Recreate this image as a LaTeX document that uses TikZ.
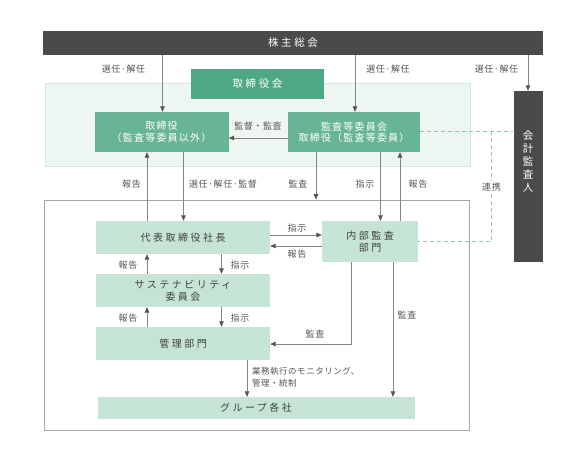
\documentclass[tikz,border=0pt]{standalone}
\usepackage{fontspec}
\setmainfont{Noto Sans CJK JP}
\newfontfamily\jpsp[LetterSpace=25]{Noto Sans CJK JP}
\newfontfamily\jpmid[LetterSpace=12]{Noto Sans CJK JP}
\newfontfamily\jplab[LetterSpace=6]{Noto Sans CJK JP}
\usetikzlibrary{arrows.meta}
\definecolor{darkbar}{HTML}{4A4A4A}
\definecolor{gboard}{HTML}{4FA885}
\definecolor{gmid}{HTML}{68B596}
\definecolor{glight}{HTML}{C6E4D6}
\definecolor{regfill}{HTML}{EEF6F1}
\definecolor{regline}{HTML}{D3E7DB}
\definecolor{lnc}{HTML}{858585}
\definecolor{tipc}{HTML}{555555}
\definecolor{txt}{HTML}{555555}
\definecolor{dashc}{HTML}{8CCBB0}
\begin{document}
\begin{tikzpicture}[x=1pt,y=-1pt,
  bx/.style={rectangle, inner sep=0pt, align=center},
  darkbx/.style={bx, fill=darkbar, text=white, font=\jpsp\fontsize{10.5}{12}\selectfont},
  boardbx/.style={bx, fill=gboard, text=white, font=\jpsp\fontsize{10.5}{12}\selectfont},
  midbx/.style={bx, fill=gmid, text=white, font=\jpmid\fontsize{10}{12}\selectfont},
  lightbx/.style={bx, fill=glight, text=black!75, font=\jpsp\fontsize{10}{12}\selectfont},
  arr/.style={draw=lnc, line width=0.7pt, -{Triangle[length=5.5pt,width=4.5pt,color=tipc]}},
  lab/.style={text=txt, font=\jplab\fontsize{9}{11}\selectfont, inner sep=1pt},
  dsh/.style={draw=dashc, line width=0.8pt, dash pattern=on 4pt off 3pt}
]
\useasboundingbox (0,0) rectangle (575,458);

% region and outer frame
\node[bx, draw=regline, fill=regfill, minimum width=425, minimum height=83] (reg) at (257.5,124.5) {};
\node[bx, draw=black!35, line width=0.7pt, minimum width=425, minimum height=230] (frame) at (256.5,315) {};

% top bar
\node[darkbx, minimum width=500, minimum height=24] (kabu) at (293,43) {株主総会};
\node[boardbx, minimum width=133, minimum height=30] (board) at (257.5,84) {取締役会};
\node[midbx, minimum width=134, minimum height=40] (tor) at (161.5,132) {取締役\\（監査等委員以外）};
\node[midbx, minimum width=132, minimum height=40] (kan) at (354,132) {監査等委員会\\[-1pt]取締役（監査等委員）};
\node[darkbx, minimum width=29, minimum height=171, font=\jpsp\fontsize{10.5}{13}\selectfont] (kaikei) at (528,176.5) {会\\計\\監\\査\\人\\[18pt]};

\node[lightbx, minimum width=174, minimum height=33] (dai) at (183,237.5) {代表取締役社長};
\node[lightbx, minimum width=96, minimum height=41] (nai) at (370,241.5) {内部監査\\部門};
\node[lightbx, minimum width=174, minimum height=33] (sus) at (183,290.5) {サステナビリティ\\委員会};
\node[lightbx, minimum width=174, minimum height=33] (kanri) at (183,343.5) {管理部門};
\node[lightbx, minimum width=317, minimum height=22] (gp) at (256,408) {グループ各社};

% from shareholders
\draw[arr] ([xshift=1pt]tor.north |- kabu.south) -- ([xshift=1pt]tor.north);
\node[lab] at (123.5,69) {選任·解任};
\draw[arr] ([xshift=1pt]kan.north |- kabu.south) -- ([xshift=1pt]kan.north);
\node[lab] at (388,69) {選任·解任};
\draw[arr] (kaikei.north |- kabu.south) -- (kaikei.north);
\node[lab] at (496.5,69) {選任·解任};

% supervision
\draw[arr] ([yshift=-6pt]kan.west) -- ([yshift=-6pt]tor.east);
\node[lab] at (258,126) {監督・監査};

% cooperation dashed
\coordinate (dj) at (491.5,131);
\draw[dsh] (kan.east |- dj) -- (kaikei.west |- dj);
\draw[dsh] (dj) -- (dj |- nai.east) -- (nai.east);
\node[lab, fill=white, inner sep=2pt] at (491.5,187) {連携};

% between board and executive
\draw[arr] ([xshift=-36pt]dai.north) -- ([xshift=-36pt]dai.north |- tor.south);
\node[lab] at (131.5,184) {報告};
\draw[arr] ([xshift=22pt]tor.south) -- ([xshift=22pt]tor.south |- dai.north);
\node[lab] at (223,184) {選任·解任·監督};
\draw[arr] ([xshift=-38pt]kan.south) -- ([xshift=-38pt]kan.south |- frame.north);
\node[lab] at (298,184) {監査};
\draw[arr] ([xshift=10.5pt]nai.north |- kan.south) -- ([xshift=10.5pt]nai.north);
\node[lab] at (365,184) {指示};
\draw[arr] ([xshift=30pt]nai.north) -- ([xshift=30pt]nai.north |- kan.south);
\node[lab] at (418,184) {報告};

% president <-> internal audit
\draw[arr] ([yshift=2.5pt]dai.east) -- ([yshift=2.5pt]dai.east -| nai.west);
\node[lab] at (297,228) {指示};
\draw[arr] ([yshift=-8.5pt]nai.west |- dai.east) -- ([yshift=-8.5pt]dai.east);
\node[lab] at (297,254) {報告};

% president <-> sustainability
\draw[arr] ([xshift=-36pt]sus.north) -- ([xshift=-36pt]dai.south);
\node[lab] at (128,265) {報告};
\draw[arr] ([xshift=38.5pt]dai.south) -- ([xshift=38.5pt]sus.north);
\node[lab] at (240,265) {指示};

% sustainability <-> admin
\draw[arr] ([xshift=-36pt]kanri.north) -- ([xshift=-36pt]sus.south);
\node[lab] at (128,318) {報告};
\draw[arr] ([xshift=38.5pt]sus.south) -- ([xshift=38.5pt]kanri.north);
\node[lab] at (240,318) {指示};

% internal audit
\draw[arr] ([xshift=-18.5pt]nai.south) |- ([yshift=-0.5pt]kanri.east);
\node[lab] at (315,334) {監査};
\draw[arr] ([xshift=23pt]nai.south) -- ([xshift=23pt]nai.south |- gp.north);
\node[lab] at (407,315) {監査};

% admin -> group
\draw[arr] ([xshift=64pt]kanri.south) -- ([xshift=64pt]kanri.south |- gp.north);
\node[lab, anchor=north west, align=left, font=\jplab\fontsize{8.5}{12}\selectfont] at (251,366) {業務執行のモニタリング、\\管理・統制};
\end{tikzpicture}
\end{document}
